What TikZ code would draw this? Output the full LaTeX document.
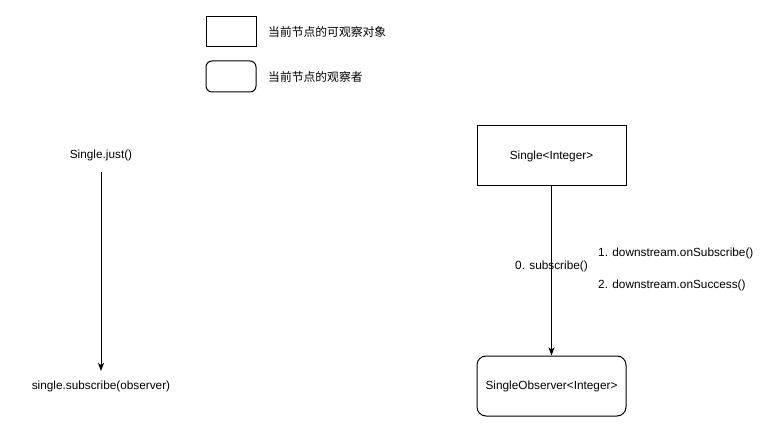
\documentclass[tikz,border=0pt]{standalone}
\usepackage{fontspec}
\setmainfont{Liberation Sans}
\newfontfamily\cjk{Noto Sans CJK SC}
\usetikzlibrary{arrows.meta}
\begin{document}
\begin{tikzpicture}[x=1pt,y=-1pt,
  lbl/.style={font=\fontsize{11.8}{13}\selectfont, inner sep=0pt},
  cjklbl/.style={font=\cjk\fontsize{11.8}{13}\selectfont, inner sep=0pt, anchor=west},
  boxsq/.style={draw, line width=1pt, minimum width=149pt, minimum height=60pt, inner sep=0pt},
  boxrd/.style={boxsq, rounded corners=9pt},
  arr/.style={line width=1pt, -{Stealth[length=8pt,width=6pt,inset=2pt]}}]
\useasboundingbox (0,0) rectangle (772,433);
% legend
\node[draw, line width=1pt, minimum width=50pt, minimum height=30pt, inner sep=0pt] (leg1) at (231,31.5) {};
\node[draw, line width=1pt, rounded corners=6pt, minimum width=50pt, minimum height=31pt, inner sep=0pt] (leg2) at (231,76.5) {};
\node[cjklbl] (legt1) at (268,31.5) {当前节点的可观察对象};
\node[cjklbl] (legt2) at (268,76.5) {当前节点的观察者};
% left
\node[lbl] (just) at (101,155) {Single.just()};
\node[lbl] (subs) at (101,386) {single.subscribe(observer)};
\coordinate (ls) at (101,172);
\coordinate (le) at (101,371);
\draw[arr] (ls) -- (le);
% right
\node[boxsq] (single) at (551.5,156) {\fontsize{11.8}{13}\selectfont Single<Integer>};
\node[boxrd] (obs) at (551.5,386) {\fontsize{11.8}{13}\selectfont SingleObserver<Integer>};
\draw[arr] (single) -- (obs);
\node[lbl] (l0) at (551.5,266) {0. subscribe()};
\node[lbl, anchor=west] (l1) at (598,253) {1. downstream.onSubscribe()};
\node[lbl, anchor=west] (l2) at (598,285.5) {2. downstream.onSuccess()};
\end{tikzpicture}
\end{document}
